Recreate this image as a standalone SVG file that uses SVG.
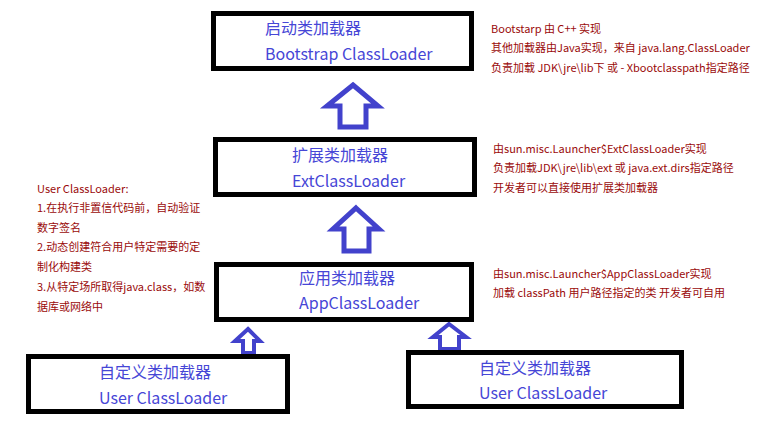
<svg xmlns="http://www.w3.org/2000/svg" width="774" height="424" viewBox="0 0 774 424">
<style>
  .box { fill: #ffffff; stroke: #000000; stroke-width: 5; }
  .lbl { font-family: "Noto Sans CJK SC", "Noto Sans", sans-serif; font-size: 16px; fill: #4646d6; }
  .note { font-family: "Noto Sans CJK SC", "Noto Sans", sans-serif; font-size: 11px; fill: #9a0a0a; }
  .arrow { fill: #ffffff; stroke: #4242cc; stroke-linejoin: miter; }
</style>
<rect width="774" height="424" fill="#ffffff"/>
<g id="connectors">
  <polygon class="arrow" stroke-width="5" points="353,85 378,106 366,106 366,127 340,127 340,106 327,106"/>
  <polygon class="arrow" stroke-width="5" points="356,208 379,229 369,229 369,251 344,251 344,229 333,229"/>
  <polygon class="arrow" stroke-width="4" points="248,329 260,341 254,341 254,353 243,353 243,341 235,341"/>
  <polygon class="arrow" stroke-width="4" points="449,324 466,337 459,337 459,349 440,349 440,337 433,337"/>
</g>
<g id="bootstrap">
  <rect class="box" x="213.5" y="13.5" width="258" height="55"/>
  <text class="lbl" x="265" y="34">启动类加载器</text>
  <text class="lbl" x="265" y="60">Bootstrap ClassLoader</text>
</g>
<g id="ext">
  <rect class="box" x="215.5" y="139.5" width="259" height="55"/>
  <text class="lbl" x="292" y="161">扩展类加载器</text>
  <text class="lbl" x="292" y="187">ExtClassLoader</text>
</g>
<g id="app">
  <rect class="box" x="216.5" y="264.5" width="255" height="55"/>
  <text class="lbl" x="299" y="284">应用类加载器</text>
  <text class="lbl" x="299" y="309">AppClassLoader</text>
</g>
<g id="user-left">
  <rect class="box" x="28.5" y="356.5" width="259" height="55"/>
  <text class="lbl" x="99" y="378">自定义类加载器</text>
  <text class="lbl" x="99" y="404">User ClassLoader</text>
</g>
<g id="user-right">
  <rect class="box" x="408.5" y="352.5" width="273" height="54"/>
  <text class="lbl" x="479" y="374">自定义类加载器</text>
  <text class="lbl" x="479" y="399">User ClassLoader</text>
</g>
<g id="note-bootstrap">
  <text class="note" x="491" y="33">Bootstarp 由 C++ 实现</text>
  <text class="note" x="491" y="52">其他加载器由Java实现，来自 java.lang.ClassLoader</text>
  <text class="note" x="491" y="72">负责加载 JDK\jre\lib下 或 - Xbootclasspath指定路径</text>
</g>
<g id="note-ext">
  <text class="note" x="493" y="153">由sun.misc.Launcher$ExtClassLoader实现</text>
  <text class="note" x="493" y="172">负责加载JDK\jre\lib\ext 或 java.ext.dirs指定路径</text>
  <text class="note" x="493" y="192">开发者可以直接使用扩展类加载器</text>
</g>
<g id="note-app">
  <text class="note" x="493" y="278">由sun.misc.Launcher$AppClassLoader实现</text>
  <text class="note" x="493" y="297">加载 classPath 用户路径指定的类 开发者可自用</text>
</g>
<g id="note-user">
  <text class="note" x="37" y="193">User ClassLoader:</text>
  <text class="note" x="37" y="212">1.在执行非置信代码前，自动验证</text>
  <text class="note" x="37" y="232">数字签名</text>
  <text class="note" x="37" y="251">2.动态创建符合用户特定需要的定</text>
  <text class="note" x="37" y="271">制化构建类</text>
  <text class="note" x="37" y="291">3.从特定场所取得java.class，如数</text>
  <text class="note" x="37" y="311">据库或网络中</text>
</g>
</svg>
